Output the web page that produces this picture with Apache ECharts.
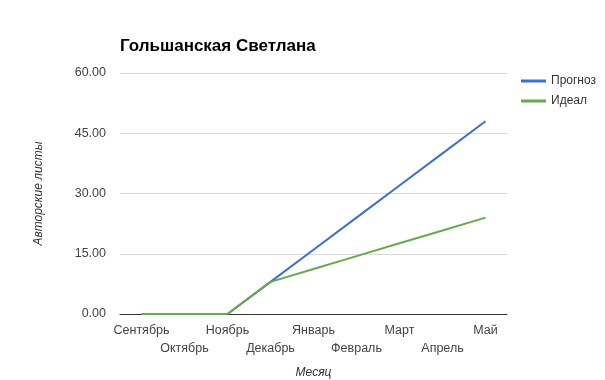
<!DOCTYPE html>
<html><head><meta charset="utf-8">
<script src="https://cdn.jsdelivr.net/npm/echarts@6/dist/echarts.min.js"></script>
<style>html,body{margin:0;padding:0;background:#fff}#c{width:605px;height:380px}</style>
</head><body><div id="c"></div>
<script>
var categories = ['Сентябрь','Октябрь','Ноябрь','Декабрь','Январь','Февраль','Март','Апрель','Май'];
var forecast = [0, 0, 0, 8, 16, 24, 32, 40, 48];
var ideal = [0, 0, 0, 8, 11.2, 14.4, 17.6, 20.8, 24];
var seriesNames = ['Прогноз', 'Идеал'];
var yTicks = {min: 0, max: 60, interval: 15};

var font = '"Liberation Sans", Arial, sans-serif';
var chart = echarts.init(document.getElementById('c'), null, {renderer: 'canvas'});
chart.setOption({
  animation: false,
  textStyle: {fontFamily: font},
  title: {
    text: 'Гольшанская Светлана', left: 115, top: 33,
    textStyle: {fontFamily: font, fontSize: 17, fontWeight: 'bold', color: '#000'}
  },
  legend: {
    orient: 'vertical', left: 516, top: 70, itemGap: 8,
    itemWidth: 25, itemHeight: 3, icon: 'rect',
    textStyle: {fontFamily: font, fontSize: 12, color: '#333'},
    data: seriesNames
  },
  grid: {left: 120, right: 98, top: 73, bottom: 66, outerBoundsMode: 'none', containLabel: false},
  xAxis: {
    type: 'category', data: categories, boundaryGap: true,
    name: 'Месяц', nameLocation: 'middle', nameGap: 53,
    nameTextStyle: {fontFamily: font, fontSize: 12, fontStyle: 'italic', color: '#333'},
    axisLine: {lineStyle: {color: '#333', width: 1}},
    axisTick: {show: false},
    axisLabel: {
      interval: 0, fontFamily: font, fontSize: 12.5, color: '#444', margin: 8, lineHeight: 18,
      formatter: function (v, i) { return i % 2 ? '\n' + v : v; }
    }
  },
  yAxis: {
    type: 'value', min: yTicks.min, max: yTicks.max, interval: yTicks.interval,
    name: 'Авторские листы', nameLocation: 'middle', nameGap: 75, nameRotate: 90,
    nameTextStyle: {fontFamily: font, fontSize: 12, fontStyle: 'italic', color: '#333'},
    axisLine: {show: false}, axisTick: {show: false},
    splitLine: {lineStyle: {color: '#d9d9d9', width: 1}},
    axisLabel: {fontFamily: font, fontSize: 12.5, color: '#444', margin: 14,
      formatter: function (v) { return v.toFixed(2); }}
  },
  series: [
    {name: seriesNames[0], type: 'line', data: forecast, symbol: 'none', z: 2,
     lineStyle: {color: '#3c6ed6', width: 2}, itemStyle: {color: '#3c6ed6'}},
    {name: seriesNames[1], type: 'line', data: ideal, symbol: 'none', z: 3,
     lineStyle: {color: '#6aa84f', width: 2}, itemStyle: {color: '#6aa84f'}}
  ]
});
</script></body></html>
